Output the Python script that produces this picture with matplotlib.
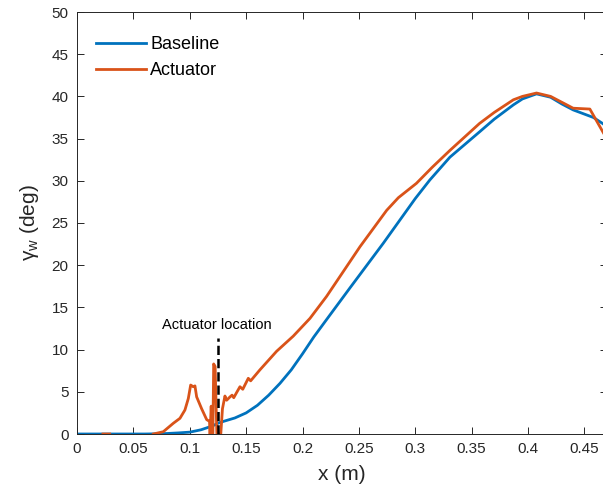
import numpy as np
import matplotlib

matplotlib.use("Agg")
import matplotlib.pyplot as plt

# baseline wall angle
x_base = [0.0, 0.04, 0.06, 0.07, 0.08, 0.09, 0.10, 0.11, 0.12, 0.125, 0.13,
          0.14, 0.15, 0.16, 0.17, 0.18, 0.19, 0.20, 0.21, 0.221, 0.242,
          0.2716, 0.285, 0.30, 0.3129, 0.3307, 0.357, 0.37, 0.387, 0.395,
          0.4075, 0.42, 0.43, 0.44, 0.45, 0.458, 0.466, 0.475]
g_base = [0.0, 0.0, 0.0, 0.02, 0.06, 0.13, 0.22, 0.5, 0.95, 1.27, 1.5,
          1.9, 2.5, 3.4, 4.6, 6.0, 7.6, 9.5, 11.5, 13.5, 17.3,
          22.6, 25.1, 27.9, 30.1, 32.8, 35.8, 37.3, 39.0, 39.7,
          40.3, 39.9, 39.1, 38.4, 37.9, 37.5, 36.8, 35.9]

# actuated case, NaN marks gaps in the data
x_act = [0.023, 0.029, np.nan,
         0.0677, 0.0765, 0.0854, 0.0913, 0.0957, 0.0987, 0.1008, 0.1031,
         0.1046, 0.1061, 0.1105, 0.115, 0.1175, 0.1180, 0.1190, 0.1198,
         0.1205, 0.1212, 0.1225, 0.1240, 0.1250, 0.1275, 0.1290, 0.1312,
         0.1327, 0.1357, 0.1375, 0.1390, 0.1415, 0.1445, 0.1470, 0.1519,
         0.1540, 0.1622, 0.177, 0.1918, 0.2066, 0.2213, 0.251, 0.2746,
         0.285, 0.301, 0.315, 0.3307, 0.357, 0.37, 0.387, 0.395, 0.4075,
         0.42, 0.44, 0.4548, 0.4663, 0.472]
g_act = [0.0, 0.0, np.nan,
         0.0, 0.27, 1.27, 1.86, 2.84, 4.2, 5.8, 5.6,
         5.7, 4.4, 3.0, 1.7, 1.5, 0.0, 3.3, 0.0,
         0.0, 8.3, 8.0, 0.0, 0.0, 0.0, 3.0, 4.5,
         4.0, 4.4, 4.6, 4.3, 4.9, 5.6, 5.3, 6.6,
         6.3, 7.6, 9.8, 11.6, 13.7, 16.3, 22.2, 26.5,
         28.0, 29.7, 31.6, 33.6, 36.8, 38.1, 39.6, 40.0, 40.4,
         40.0, 38.6, 38.5, 35.8, 34.5]

act_x = 0.1247
act_top = 11.4

plt.rcParams["font.family"] = ["Liberation Sans", "DejaVu Sans"]
plt.rcParams["mathtext.fontset"] = "custom"
plt.rcParams["mathtext.rm"] = "Liberation Sans"
plt.rcParams["mathtext.it"] = "Liberation Sans"

fig = plt.figure(figsize=(6.03, 4.94), dpi=100)
ax = fig.add_axes([77 / 603, 60 / 494, 530 / 603, 422 / 494])

ax.plot(x_base, g_base, color="#0072BD", lw=2.0, label="Baseline")
ax.plot(x_act, g_act, color="#D95319", lw=2.0, label="Actuator")
ax.plot([act_x, act_x], [0, act_top], color="black", lw=1.8, ls="--")
ax.text(0.1237, 12.9, "Actuator location", ha="center", va="center",
        fontsize=10.5, color="black")

ax.set_xlim(0, 0.47)
ax.set_ylim(0, 50)
ax.set_xticks(np.arange(0, 0.46, 0.05))
ax.set_xticklabels(["0", "0.05", "0.1", "0.15", "0.2", "0.25", "0.3",
                    "0.35", "0.4", "0.45"])
ax.set_yticks(np.arange(0, 51, 5))

ax.tick_params(direction="in", length=5, width=0.7, colors="#262626",
               labelsize=11, top=True, right=True, pad=6)
for s in ax.spines.values():
    s.set_color("#262626")
    s.set_linewidth(0.7)

ax.set_xlabel("x (m)", fontsize=15, color="#262626", labelpad=6)
ax.set_ylabel(r"$\gamma_{\mathrm{w}}$ (deg)", fontsize=15, color="#262626",
              labelpad=8)

ax.legend(loc="upper left", bbox_to_anchor=(0.036, 0.943), frameon=False,
          fontsize=13, handlelength=2.75, handletextpad=0.25,
          labelspacing=0.52, borderpad=0, borderaxespad=0)

fig.savefig("out.png", dpi=100)
